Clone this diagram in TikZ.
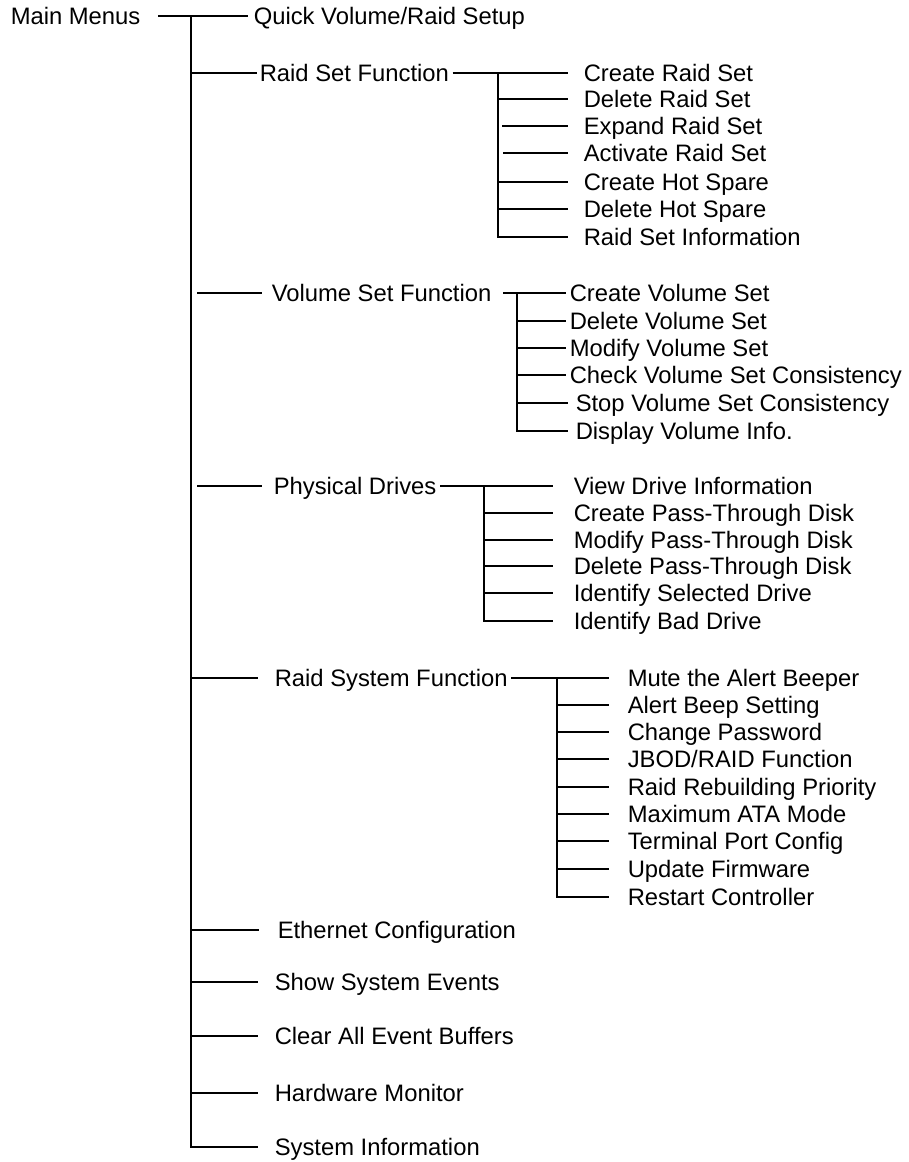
\documentclass[tikz,border=0pt]{standalone}
\usepackage{fontspec}
\setmainfont{Liberation Sans}
\begin{document}
\begin{tikzpicture}[x=1pt,y=-1pt,line width=1.5pt,
  lbl/.style={anchor=west,inner sep=0pt,text height=17pt,text depth=0pt,font=\fontsize{23.8}{28}\selectfont}]
\useasboundingbox (0,0) rectangle (909,1162);
% root
\node[lbl] (main) at (10,16) {Main Menus};
\node[lbl] (qv) at (253,16) {Quick Volume/Raid Setup};
\coordinate (t0) at (191,15);
% level 1
\node[lbl] (rsf) at (259,73) {Raid Set Function};
\node[lbl] (vsf) at (271,293) {Volume Set Function};
\node[lbl] (pd) at (273,486) {Physical Drives};
\node[lbl] (rsys) at (274,678) {Raid System Function};
\node[lbl] (ec) at (277,930) {Ethernet Configuration};
\node[lbl] (sse) at (274,982) {Show System Events};
\node[lbl] (caeb) at (274,1036) {Clear All Event Buffers};
\node[lbl] (hm) at (274,1093) {Hardware Monitor};
\node[lbl] (si) at (274,1147) {System Information};
% raid set
\node[lbl] (crs) at (583,73) {Create Raid Set};
\node[lbl] (drs) at (583,99) {Delete Raid Set};
\node[lbl] (ers) at (583,126) {Expand Raid Set};
\node[lbl] (ars) at (583,153) {Activate Raid Set};
\node[lbl] (chs) at (583,182) {Create Hot Spare};
\node[lbl] (dhs) at (583,209) {Delete Hot Spare};
\node[lbl] (rsi) at (583,237) {Raid Set Information};
\coordinate (r0) at (498,73);
% volume set
\node[lbl] (cvs) at (569,293) {Create Volume Set};
\node[lbl] (dvs) at (569,321) {Delete Volume Set};
\node[lbl] (mvs) at (569,348) {Modify Volume Set};
\node[lbl] (ccs) at (569,375) {Check Volume Set Consistency};
\node[lbl] (scs) at (575,403) {Stop Volume Set Consistency};
\node[lbl] (dvi) at (575,431) {Display Volume Info.};
\coordinate (v0) at (517,293);
% physical drives
\node[lbl] (vdi) at (573,486) {View Drive Information};
\node[lbl] (cpt) at (573,513) {Create Pass-Through Disk};
\node[lbl] (mpt) at (573,540) {Modify Pass-Through Disk};
\node[lbl] (dpt) at (573,566) {Delete Pass-Through Disk};
\node[lbl] (isd) at (573,593) {Identify Selected Drive};
\node[lbl] (ibd) at (573,621) {Identify Bad Drive};
\coordinate (p0) at (484,486);
% raid system
\node[lbl] (mab) at (627,678) {Mute the Alert Beeper};
\node[lbl] (abs) at (627,705) {Alert Beep Setting};
\node[lbl] (cp) at (627,732) {Change Password};
\node[lbl] (jbod) at (627,759) {JBOD/RAID Function};
\node[lbl] (rrp) at (627,787) {Raid Rebuilding Priority};
\node[lbl] (mata) at (627,814) {Maximum ATA Mode};
\node[lbl] (tpc) at (627,841) {Terminal Port Config};
\node[lbl] (uf) at (627,869) {Update Firmware};
\node[lbl] (rc) at (627,897) {Restart Controller};
\coordinate (s0) at (557,678);
% ---- connectors
\draw ([xshift=17pt]main.east) -- ([xshift=-5pt]qv.west);
\draw (t0) -- (t0 |- si.west) -- ([xshift=-16pt]si.west);
\draw (t0 |- rsf.west) -- ([xshift=-2pt]rsf.west);
\draw ([xshift=6pt]t0 |- vsf.west) -- ([xshift=-9pt]vsf.west);
\draw ([xshift=6pt]t0 |- pd.west) -- ([xshift=-11pt]pd.west);
\draw (t0 |- rsys.west) -- ([xshift=-16pt]rsys.west);
\draw (t0 |- ec.west) -- ([xshift=-18pt]ec.west);
\draw (t0 |- sse.west) -- ([xshift=-16pt]sse.west);
\draw (t0 |- caeb.west) -- ([xshift=-16pt]caeb.west);
\draw (t0 |- hm.west) -- ([xshift=-16pt]hm.west);
% raid set subtree
\draw ([xshift=3pt]rsf.east) -- ([xshift=-15pt]crs.west);
\draw (r0) -- (r0 |- rsi.west) -- ([xshift=-15pt]rsi.west);
\draw (r0 |- drs.west) -- ([xshift=-15pt]drs.west);
\draw ([xshift=4pt]r0 |- ers.west) -- ([xshift=-15pt]ers.west);
\draw ([xshift=5pt]r0 |- ars.west) -- ([xshift=-15pt]ars.west);
\draw (r0 |- chs.west) -- ([xshift=-15pt]chs.west);
\draw (r0 |- dhs.west) -- ([xshift=-15pt]dhs.west);
% volume set subtree
\draw ([xshift=11pt]vsf.east) -- ([xshift=-3pt]cvs.west);
\draw (v0) -- (v0 |- dvi.west) -- ([xshift=-7pt]dvi.west);
\draw (v0 |- dvs.west) -- ([xshift=-3pt]dvs.west);
\draw (v0 |- mvs.west) -- ([xshift=-3pt]mvs.west);
\draw (v0 |- ccs.west) -- ([xshift=-3pt]ccs.west);
\draw (v0 |- scs.west) -- ([xshift=-7pt]scs.west);
% physical drives subtree
\draw ([xshift=3pt]pd.east) -- ([xshift=-20pt]vdi.west);
\draw (p0) -- (p0 |- ibd.west) -- ([xshift=-20pt]ibd.west);
\draw (p0 |- cpt.west) -- ([xshift=-20pt]cpt.west);
\draw (p0 |- mpt.west) -- ([xshift=-20pt]mpt.west);
\draw (p0 |- dpt.west) -- ([xshift=-20pt]dpt.west);
\draw (p0 |- isd.west) -- ([xshift=-20pt]isd.west);
% raid system subtree
\draw ([xshift=3pt]rsys.east) -- ([xshift=-18pt]mab.west);
\draw (s0) -- (s0 |- rc.west) -- ([xshift=-18pt]rc.west);
\draw (s0 |- abs.west) -- ([xshift=-18pt]abs.west);
\draw (s0 |- cp.west) -- ([xshift=-18pt]cp.west);
\draw (s0 |- jbod.west) -- ([xshift=-18pt]jbod.west);
\draw (s0 |- rrp.west) -- ([xshift=-18pt]rrp.west);
\draw (s0 |- mata.west) -- ([xshift=-18pt]mata.west);
\draw (s0 |- tpc.west) -- ([xshift=-18pt]tpc.west);
\draw (s0 |- uf.west) -- ([xshift=-18pt]uf.west);
\end{tikzpicture}
\end{document}
